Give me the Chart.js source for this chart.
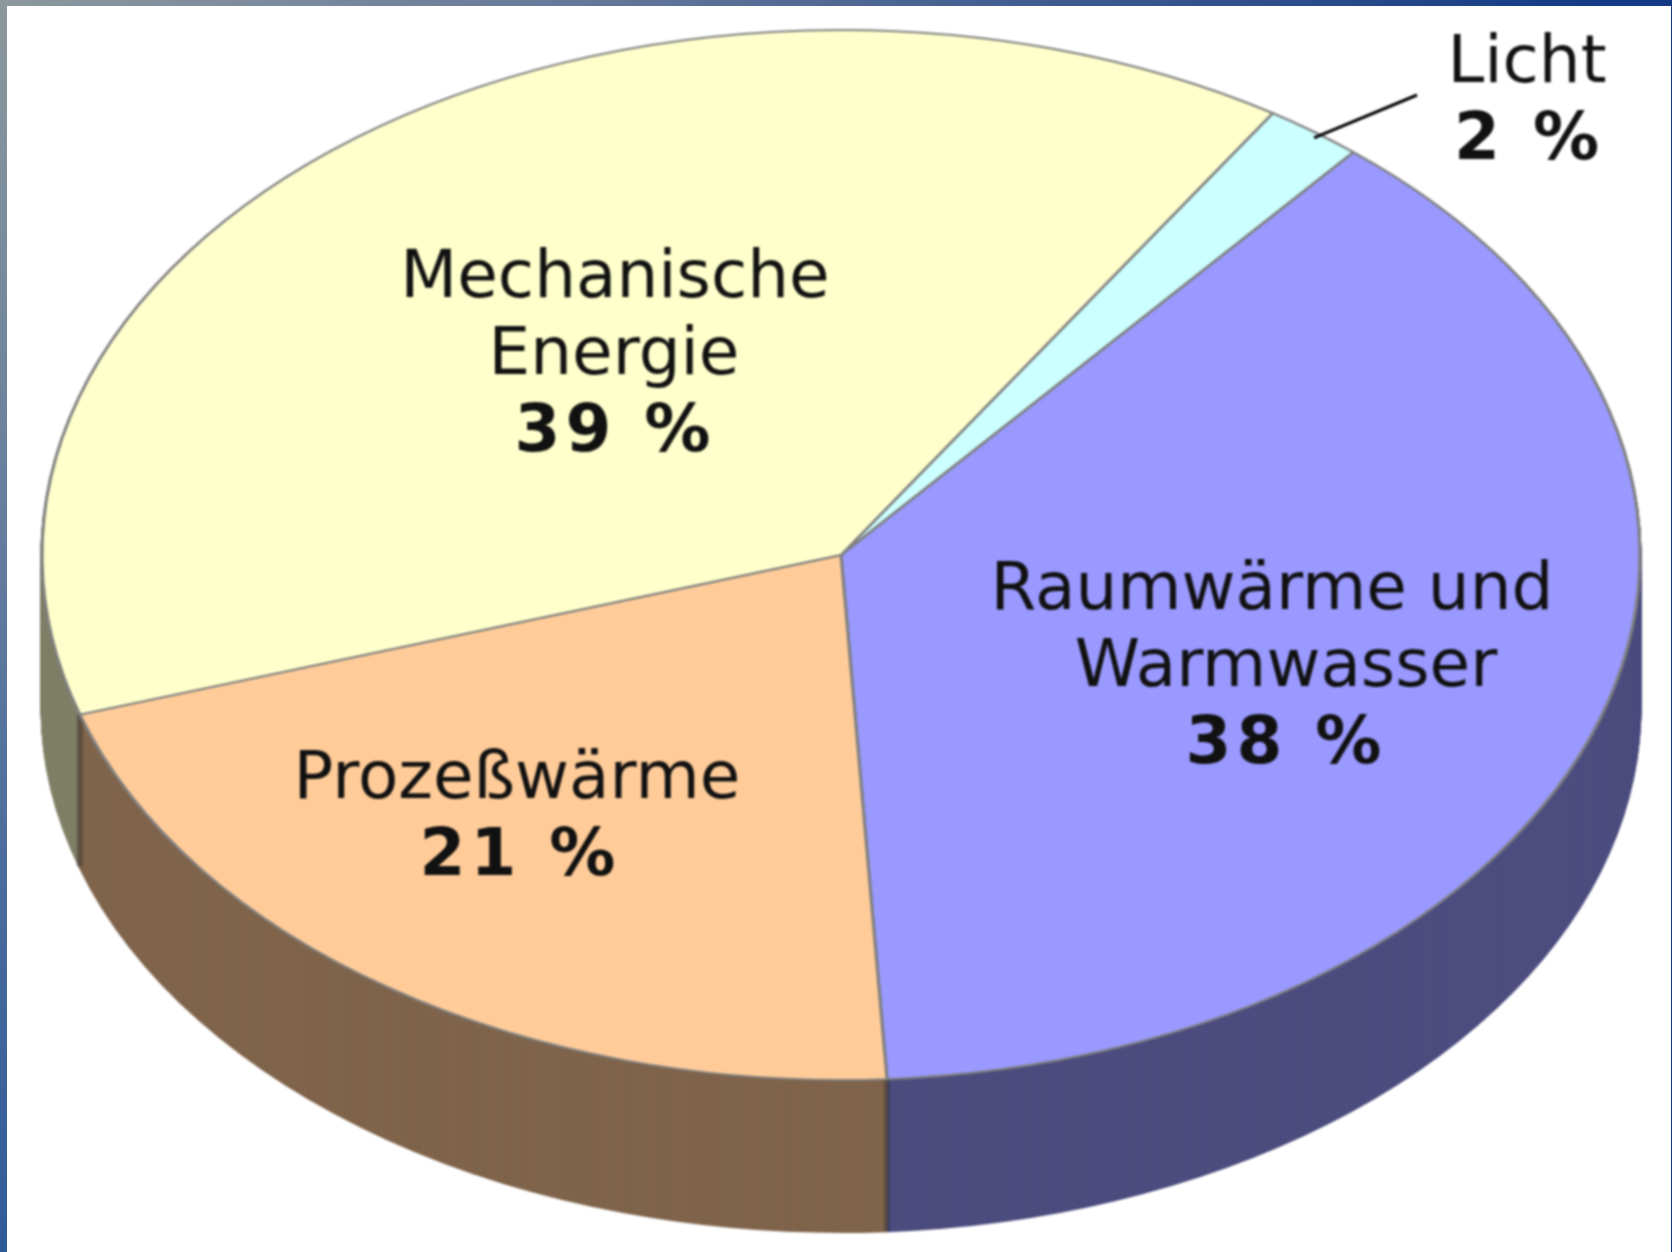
<!DOCTYPE html>
<html lang="de">
<head>
<meta charset="utf-8">
<title>Energieverbrauch</title>
<style>
    html, body { margin: 0; padding: 0; width: 1672px; height: 1252px; overflow: hidden; background: #fff; }
    #frame { position: relative; width: 1672px; height: 1252px; }
    #topBand { position: absolute; left: 0; top: 0; width: 1672px; height: 6px; background: linear-gradient(90deg, #8c989c, #7a899e 300px, #143a85 1600px); }
    #leftBand { position: absolute; left: 0; top: 0; width: 7px; height: 1252px; background: linear-gradient(180deg, #8c989c, #5f7a9e 600px, #2f5a9a 1252px); }
    #rightBand { position: absolute; right: 0; top: 0; width: 1px; height: 1252px; background: #143a85; }
    canvas { position: absolute; left: 0; top: 0; filter: blur(0.8px); }
</style>
<script src="https://cdn.jsdelivr.net/npm/chart.js@4"></script>
</head>
<body>
<div id="frame">
    <div id="topBand"></div>
    <div id="leftBand"></div>
    <div id="rightBand"></div>
    <canvas id="pieChart" width="1672" height="1252"></canvas>
</div>
<script>
const categories = ['Licht', 'Raumwärme und Warmwasser', 'Prozeßwärme', 'Mechanische Energie'];
const shares = [2, 38, 21, 39];
const faceColors = ['#ccffff', '#9999ff', '#ffcc99', '#ffffcc'];
const wallColors = ['#667f7f', '#4c4c7f', '#7f644b', '#7f7f66'];

const labelLines = [['Licht'], ['Raumwärme und', 'Warmwasser'], ['Prozeßwärme'], ['Mechanische', 'Energie']];
// centre of each text line, the percentage comes last
const labelX = [[1527, 1529], [1272, 1286, 1286], [517, 520], [615, 614, 615]];
const labelY = [82, 609, 798, 297];
const lineStep = 77;
const leaderEnd = [1417, 95];

const radiusX = 799;
const radiusY = 525;
const depth = 152;

const tiltPlugin = {
    id: 'tilt',
    beforeDatasetsDraw(chart) {
        const ctx = chart.ctx;
        const arcs = chart.getDatasetMeta(0).data;
        const { x, y, outerRadius } = arcs[0];
        const sx = radiusX / outerRadius;
        const sy = radiusY / outerRadius;
        ctx.save();
        ctx.translate(x, y);
        ctx.scale(sx, sy);
        ctx.translate(-x, -y);

        // side wall: the same arcs stacked downwards in the dark colours
        for (let d = depth; d > 0; d--) {
            ctx.save();
            ctx.translate(0, d / sy);
            arcs.forEach((arc, i) => {
                const saved = arc.options;
                arc.options = Object.assign({}, saved, {
                    backgroundColor: wallColors[i],
                    borderColor: wallColors[i]
                });
                arc.draw(ctx);
                arc.options = saved;
            });
            ctx.restore();
        }

        // dark seams where two slices meet on the front of the wall
        arcs.forEach(arc => {
            const px = arc.x + Math.cos(arc.startAngle) * arc.outerRadius;
            const py = arc.y + Math.sin(arc.startAngle) * arc.outerRadius;
            if (py > arc.y) {
                ctx.beginPath();
                ctx.moveTo(px, py);
                ctx.lineTo(px, py + depth / sy);
                ctx.lineWidth = 4;
                ctx.strokeStyle = 'rgba(40,35,40,0.35)';
                ctx.stroke();
            }
        });
    },
    afterDatasetsDraw(chart) {
        chart.ctx.restore();
    },
    afterDraw(chart) {
        const ctx = chart.ctx;
        const arcs = chart.getDatasetMeta(0).data;
        ctx.save();
        ctx.textAlign = 'center';
        ctx.textBaseline = 'alphabetic';
        ctx.fillStyle = '#111';
        labelLines.forEach((lines, i) => {
            ctx.font = '66px "DejaVu Sans"';
            ctx.letterSpacing = '0px';
            lines.forEach((line, j) => ctx.fillText(line, labelX[i][j], labelY[i] + j * lineStep));
            ctx.font = 'bold 66px "DejaVu Sans"';
            ctx.letterSpacing = '5px';
            ctx.fillText(shares[i] + ' %', labelX[i][lines.length], labelY[i] + lines.length * lineStep);
        });

        // leader from the middle of the Licht slice
        const mid = (arcs[0].startAngle + arcs[0].endAngle) / 2;
        ctx.beginPath();
        ctx.moveTo(arcs[0].x + Math.cos(mid) * radiusX, arcs[0].y + Math.sin(mid) * radiusY + 6);
        ctx.lineTo(leaderEnd[0], leaderEnd[1]);
        ctx.lineWidth = 3;
        ctx.strokeStyle = '#000';
        ctx.stroke();
        ctx.restore();
    }
};

new Chart(document.getElementById('pieChart'), {
    type: 'pie',
    data: {
        labels: categories,
        datasets: [{
            data: shares,
            backgroundColor: faceColors,
            borderColor: '#7f7f7f',
            borderWidth: 2,
            clip: false
        }]
    },
    options: {
        responsive: false,
        animation: false,
        rotation: 32.7,
        layout: { padding: { left: 41, right: 31, top: 29, bottom: 171 } },
        plugins: { legend: { display: false }, tooltip: { enabled: false } }
    },
    plugins: [tiltPlugin]
});
</script>
</body>
</html>
